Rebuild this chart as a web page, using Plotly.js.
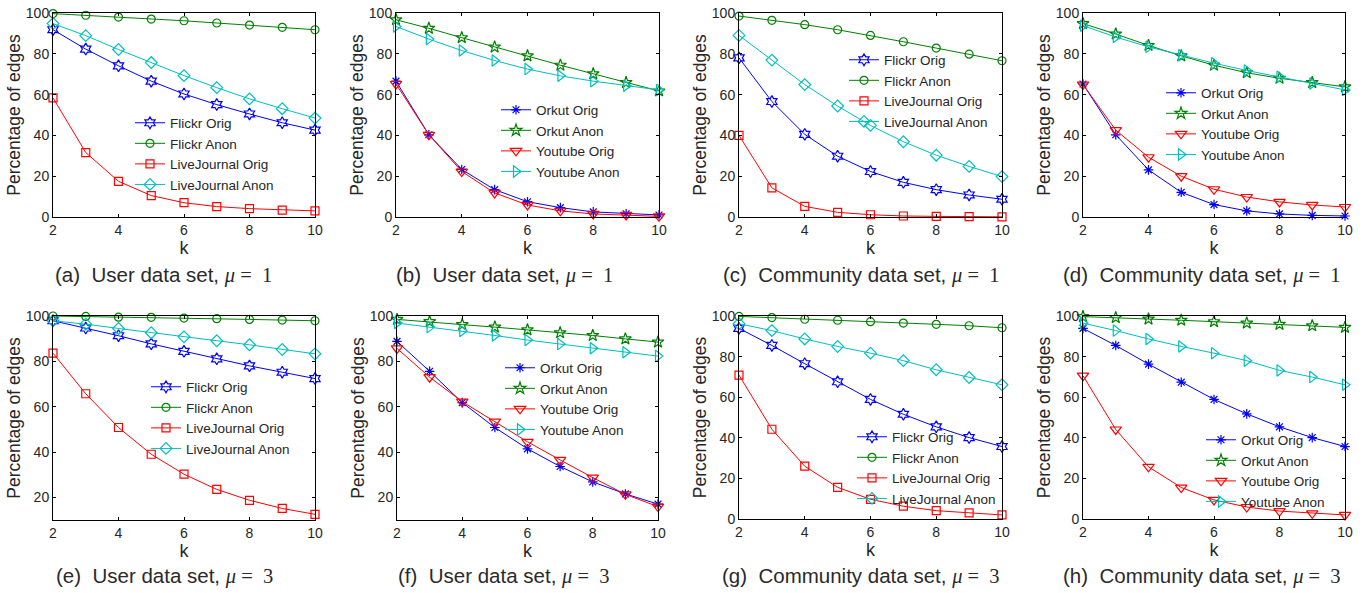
<!DOCTYPE html>
<html>
<head>
<meta charset="utf-8">
<script src="https://cdn.plot.ly/plotly-3.0.1.min.js"></script>
<style>html,body{margin:0;padding:0;background:#fff;}#chart{width:1364px;height:593px;}</style>
</head>
<body>
<div id="chart"></div>
<script>
const kValues = [2, 3, 4, 5, 6, 7, 8, 9, 10];
const xTickVals = [2, 4, 6, 8, 10];
const yTickVals = [0, 20, 40, 60, 80, 100];
const yTickValsHigh = [20, 40, 60, 80, 100];

const flickrNames = ["Flickr Orig", "Flickr Anon", "LiveJournal Orig", "LiveJournal Anon"];
const orkutNames = ["Orkut Orig", "Orkut Anon", "Youtube Orig", "Youtube Anon"];
const captions = [
  "(a)", "User data set,", "1",
  "(b)", "User data set,", "1",
  "(c)", "Community data set,", "1",
  "(d)", "Community data set,", "1",
  "(e)", "User data set,", "3",
  "(f)", "User data set,", "3",
  "(g)", "Community data set,", "3",
  "(h)", "Community data set,", "3"
];

// (a) User data set, mu = 1
const a_flickrOrig = [91.8, 82.3, 74.1, 66.6, 60.3, 55.1, 50.5, 46.2, 42.6];
const a_flickrAnon = [99.7, 98.9, 98.0, 97.0, 96.2, 95.1, 94.1, 93.0, 91.8];
const a_ljOrig = [58.4, 31.6, 17.5, 10.5, 7.0, 5.1, 4.1, 3.4, 3.0];
const a_ljAnon = [94.8, 88.9, 82.1, 75.7, 69.3, 63.4, 57.9, 53.1, 48.5];
// (b)
const b_orkutOrig = [66.6, 40.3, 23.3, 13.4, 7.5, 4.6, 2.5, 1.6, 1.0];
const b_orkutAnon = [96.7, 92.5, 87.9, 83.3, 79.0, 74.4, 70.2, 65.9, 61.8];
const b_youtubeOrig = [65.2, 40.3, 22.3, 11.8, 5.9, 3.0, 1.5, 1.0, 0.3];
const b_youtubeAnon = [93.4, 87.2, 81.6, 76.7, 72.5, 69.2, 66.6, 64.3, 62.3];
// (c)
const c_flickrOrig = [78.0, 56.6, 40.5, 29.8, 22.3, 17.0, 13.4, 10.8, 8.7];
const c_flickrAnon = [98.5, 96.4, 94.3, 91.8, 89.0, 85.9, 82.8, 79.8, 76.6];
const c_ljOrig = [40.0, 14.3, 5.2, 2.3, 1.1, 0.5, 0.3, 0.2, 0.1];
const c_ljAnon = [89.0, 76.9, 64.9, 54.4, 44.9, 36.9, 30.3, 24.8, 19.8];
// (d)
const d_orkutOrig = [65.2, 40.3, 23.1, 12.1, 6.1, 3.0, 1.5, 0.8, 0.5];
const d_orkutAnon = [94.8, 89.7, 84.1, 79.0, 74.4, 70.7, 68.0, 65.9, 63.8];
const d_youtubeOrig = [64.9, 42.6, 29.3, 20.0, 13.6, 9.8, 7.4, 5.9, 4.9];
const d_youtubeAnon = [93.8, 88.2, 83.4, 79.3, 75.4, 71.8, 68.7, 65.4, 62.3];
// (e)
const e_flickrOrig = [97.9, 94.7, 91.3, 87.7, 84.4, 81.1, 78.0, 75.2, 72.4];
const e_flickrAnon = [100.0, 99.8, 99.5, 99.4, 99.1, 98.8, 98.5, 98.2, 97.9];
const e_ljOrig = [83.6, 65.7, 50.8, 39.0, 30.2, 23.5, 18.7, 15.1, 12.5];
const e_ljAnon = [97.9, 96.4, 94.5, 92.6, 90.8, 89.1, 87.3, 85.2, 83.3];
// (f)
const f_orkutOrig = [88.8, 75.6, 61.8, 50.8, 41.4, 33.6, 26.8, 21.5, 17.0];
const f_orkutAnon = [98.5, 97.5, 96.2, 95.1, 93.9, 92.6, 91.4, 89.9, 88.5];
const f_youtubeOrig = [85.7, 73.0, 62.2, 53.4, 44.5, 36.5, 28.7, 21.3, 15.9];
const f_youtubeAnon = [96.9, 95.1, 93.4, 91.4, 89.4, 87.6, 85.8, 84.0, 82.3];
// (g)
const g_flickrOrig = [93.9, 85.5, 76.5, 67.6, 58.9, 51.6, 45.4, 40.1, 35.7];
const g_flickrAnon = [99.8, 99.2, 98.4, 97.9, 97.2, 96.5, 95.9, 95.2, 94.2];
const g_ljOrig = [70.9, 44.2, 26.0, 15.6, 9.7, 6.3, 4.1, 3.0, 2.0];
const g_ljAnon = [96.2, 92.8, 88.7, 85.0, 81.7, 78.0, 73.5, 69.7, 66.1];
// (h)
const h_orkutOrig = [93.9, 85.5, 76.3, 67.4, 58.9, 51.8, 45.4, 40.1, 35.7];
const h_orkutAnon = [99.7, 99.2, 98.5, 97.9, 97.2, 96.5, 95.9, 95.2, 94.4];
const h_youtubeOrig = [70.6, 44.1, 25.7, 15.5, 9.4, 5.9, 3.9, 2.8, 2.0];
const h_youtubeAnon = [96.5, 92.8, 88.7, 85.0, 81.7, 78.0, 73.2, 69.9, 66.1];

// ---------- styling / layout (not data) ----------
const W = 1364, H = 593;
const FONT = "Liberation Sans, Arial, Helvetica, sans-serif";
const TXT = "#262626";
const colors = ["#0000ff", "#008000", "#ff0000", "#00bfbf"];
const flickrSymbols = ["hexagram-open", "circle-open", "square-open", "diamond-open"];
const orkutSymbols = ["asterisk-open", "star-open", "triangle-down-open", "triangle-right-open"];
const flickrSizes = [9, 8, 8, 9];
const orkutSizes = [8, 9, 10, 10];

// panel boxes in pixels: [left, right, top, bottom]
const boxes = [
  [53, 315, 13, 217], [396, 659, 13, 217], [739, 1002, 13, 217], [1083, 1345, 13, 217],
  [53, 315, 316, 520], [397, 658, 316, 520], [739, 1002, 316, 519], [1083, 1345, 316, 519]
];
const yRanges = [[0,100],[0,100],[0,100],[0,100],[10,100],[10,100],[0,100],[0,100]];
// legend: [line start x, vertical center y]
const legendPos = [[135,154],[501,141],[849,91],[1166,124],[151,418],[505,399],[857,468],[1206,471]];
const captionPos = [[163,275],[504,275],[861,275],[1202,275],[164,576],[504,576],[861,576],[1202,576]];

const panelSeries = [
  [a_flickrOrig, a_flickrAnon, a_ljOrig, a_ljAnon],
  [b_orkutOrig, b_orkutAnon, b_youtubeOrig, b_youtubeAnon],
  [c_flickrOrig, c_flickrAnon, c_ljOrig, c_ljAnon],
  [d_orkutOrig, d_orkutAnon, d_youtubeOrig, d_youtubeAnon],
  [e_flickrOrig, e_flickrAnon, e_ljOrig, e_ljAnon],
  [f_orkutOrig, f_orkutAnon, f_youtubeOrig, f_youtubeAnon],
  [g_flickrOrig, g_flickrAnon, g_ljOrig, g_ljAnon],
  [h_orkutOrig, h_orkutAnon, h_youtubeOrig, h_youtubeAnon]
];

const traces = [];
const layout = {
  width: W, height: H,
  margin: {l: 0, r: 0, t: 0, b: 0},
  paper_bgcolor: "#fff", plot_bgcolor: "#fff",
  font: {family: FONT, color: TXT, size: 14},
  showlegend: true,
  annotations: []
};

const NB = "\u00a0";
panelSeries.forEach((series, p) => {
  const isFlickr = (p % 2 === 0);
  const names = isFlickr ? flickrNames : orkutNames;
  const syms = isFlickr ? flickrSymbols : orkutSymbols;
  const sizes = isFlickr ? flickrSizes : orkutSizes;
  const sfx = p === 0 ? "" : String(p + 1);
  const legendId = "legend" + sfx;
  series.forEach((vals, i) => {
    traces.push({
      type: "scatter", mode: "lines+markers",
      x: kValues, y: vals, name: names[i],
      xaxis: "x" + sfx, yaxis: "y" + sfx,
      legend: legendId,
      cliponaxis: false,
      line: {color: colors[i], width: 1},
      marker: {symbol: syms[i], size: sizes[i], color: colors[i], line: {color: colors[i], width: 1.2}}
    });
  });
  const [l, r, t, b] = boxes[p];
  const yr = yRanges[p];
  layout["xaxis" + sfx] = {
    domain: [l / W, r / W], anchor: "y" + sfx, range: [2, 10],
    tickvals: xTickVals, ticks: "inside", ticklen: 3, tickcolor: "#000",
    showline: true, linecolor: "#000", linewidth: 1, mirror: "ticks",
    showgrid: false, zeroline: false, fixedrange: true,
    tickfont: {family: FONT, size: 14, color: TXT},
    title: {text: "k", font: {family: FONT, size: 18, color: TXT}, standoff: 0}
  };
  layout["yaxis" + sfx] = {
    domain: [(H - b) / H, (H - t) / H], anchor: "x" + sfx, range: yr,
    tickvals: yr[0] === 0 ? yTickVals : yTickValsHigh,
    ticks: "inside", ticklen: 3, tickcolor: "#000",
    showline: true, linecolor: "#000", linewidth: 1, mirror: "ticks",
    showgrid: false, zeroline: false, fixedrange: true,
    tickfont: {family: FONT, size: 14, color: TXT},
    title: {text: "Percentage of edges", font: {family: FONT, size: 17.5, color: TXT}, standoff: 0}
  };
  const [lx, ly] = legendPos[p];
  layout[legendId] = {
    x: (lx - 5) / W, xanchor: "left",
    y: (H - ly) / H, yanchor: "middle",
    bgcolor: "rgba(0,0,0,0)", borderwidth: 0,
    font: {family: FONT, size: 13.5, color: TXT},
    itemwidth: 30, tracegroupgap: 0
  };
  const [cx, cy] = captionPos[p];
  const cap = captions.slice(p * 3, p * 3 + 3);
  layout.annotations.push({
    xref: "paper", yref: "paper", x: cx / W, y: (H - cy) / H,
    xanchor: "center", yanchor: "middle", showarrow: false,
    font: {family: FONT, size: 20.5, color: "#2a2a2a"},
    text: cap[0] + NB + NB + cap[1] + " <span style=\"font-family:'Liberation Serif',serif\"><i>\u03bc</i>" + NB + "=" + NB + NB + cap[2] + "</span>"
  });
});

Plotly.newPlot("chart", traces, layout, {staticPlot: true, displayModeBar: false});
</script>
</body>
</html>
